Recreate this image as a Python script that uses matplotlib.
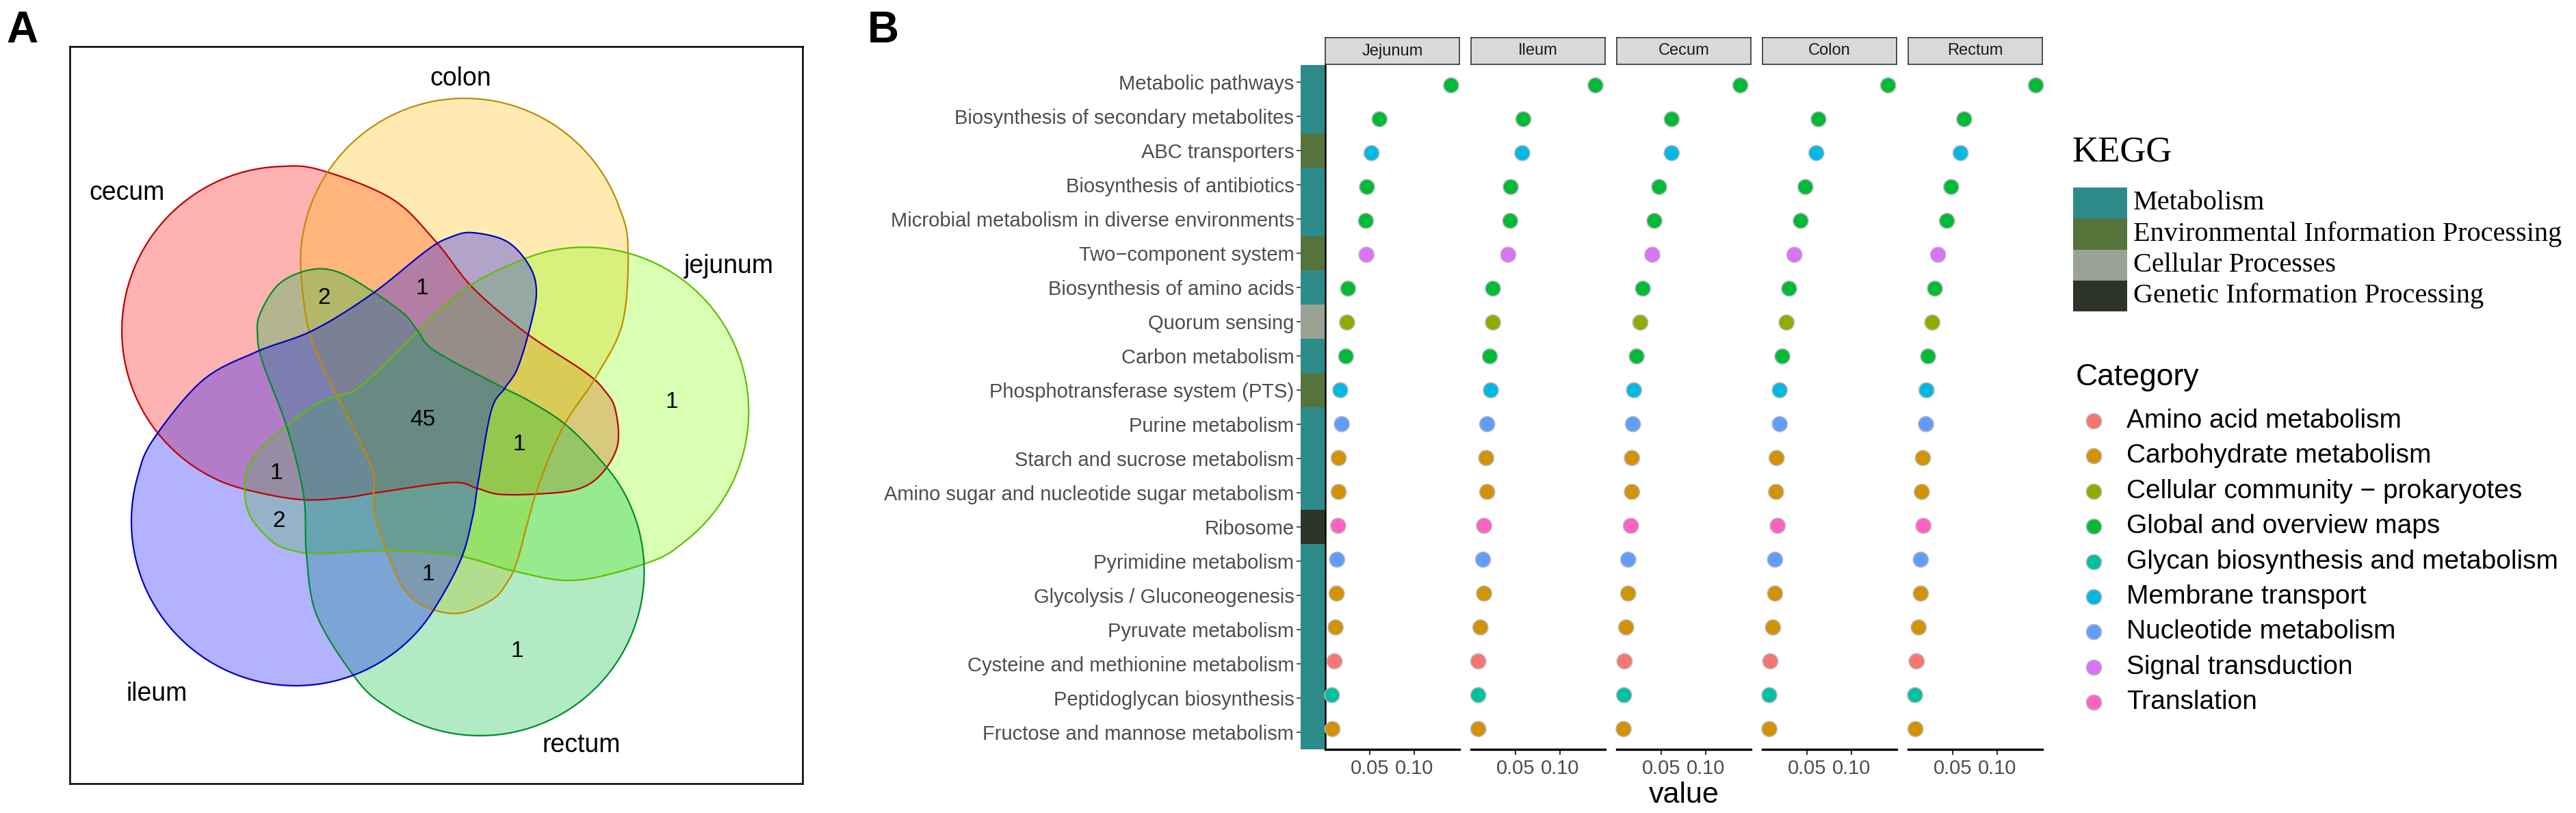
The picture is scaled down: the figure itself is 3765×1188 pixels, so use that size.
import numpy as np
import matplotlib
matplotlib.use('Agg')
import matplotlib.pyplot as plt
from matplotlib.patches import Polygon, Rectangle

plt.rcParams['font.family'] = ['Liberation Sans', 'DejaVu Sans']

W, H = 3765, 1188

# ---------------- data: panel A (Venn) ----------------
venn_sets = ['cecum', 'colon', 'jejunum', 'rectum', 'ileum']
venn_counts = [45, 2, 1, 1, 1, 1, 2, 1, 1]

# ---------------- data: panel B (dot plot) ----------------
pathways = ['Metabolic pathways', 'Biosynthesis of secondary metabolites',
            'ABC transporters', 'Biosynthesis of antibiotics',
            'Microbial metabolism in diverse environments', 'Two\u2212component system',
            'Biosynthesis of amino acids', 'Quorum sensing', 'Carbon metabolism',
            'Phosphotransferase system (PTS)', 'Purine metabolism',
            'Starch and sucrose metabolism', 'Amino sugar and nucleotide sugar metabolism',
            'Ribosome', 'Pyrimidine metabolism', 'Glycolysis / Gluconeogenesis',
            'Pyruvate metabolism', 'Cysteine and methionine metabolism',
            'Peptidoglycan biosynthesis', 'Fructose and mannose metabolism']
kegg_class = ['Metabolism', 'Metabolism', 'Environmental Information Processing',
              'Metabolism', 'Metabolism', 'Environmental Information Processing',
              'Metabolism', 'Cellular Processes', 'Metabolism',
              'Environmental Information Processing', 'Metabolism', 'Metabolism',
              'Metabolism', 'Genetic Information Processing', 'Metabolism',
              'Metabolism', 'Metabolism', 'Metabolism', 'Metabolism', 'Metabolism']
category = ['Global and overview maps', 'Global and overview maps', 'Membrane transport',
            'Global and overview maps', 'Global and overview maps', 'Signal transduction',
            'Global and overview maps', 'Cellular community \u2212 prokaryotes',
            'Global and overview maps', 'Membrane transport', 'Nucleotide metabolism',
            'Carbohydrate metabolism', 'Carbohydrate metabolism', 'Translation',
            'Nucleotide metabolism', 'Carbohydrate metabolism', 'Carbohydrate metabolism',
            'Amino acid metabolism', 'Glycan biosynthesis and metabolism',
            'Carbohydrate metabolism']
segments = ['Jejunum', 'Ileum', 'Cecum', 'Colon', 'Rectum']
jejunum = [0.1415, 0.0610, 0.0520, 0.0469, 0.0457, 0.0463, 0.0257, 0.0245, 0.0233, 0.0169,
           0.0186, 0.0151, 0.0151, 0.0145, 0.0133, 0.0128, 0.0116, 0.0104, 0.0075, 0.0080]
ileum = [0.1400, 0.0589, 0.0577, 0.0447, 0.0441, 0.0418, 0.0247, 0.0247, 0.0212, 0.0223,
         0.0182, 0.0171, 0.0182, 0.0147, 0.0135, 0.0147, 0.0106, 0.0082, 0.0082, 0.0082]
cecum = [0.1390, 0.0618, 0.0618, 0.0477, 0.0424, 0.0400, 0.0294, 0.0265, 0.0224, 0.0194,
         0.0182, 0.0171, 0.0171, 0.0159, 0.0129, 0.0129, 0.0106, 0.0088, 0.0082, 0.0077]
colon = [0.1413, 0.0630, 0.0606, 0.0483, 0.0430, 0.0359, 0.0300, 0.0271, 0.0224, 0.0194,
         0.0194, 0.0159, 0.0153, 0.0171, 0.0141, 0.0141, 0.0118, 0.0088, 0.0077, 0.0077]
rectum = [0.1436, 0.0630, 0.0589, 0.0483, 0.0436, 0.0336, 0.0300, 0.0271, 0.0224, 0.0206,
          0.0200, 0.0165, 0.0153, 0.0171, 0.0141, 0.0141, 0.0118, 0.0094, 0.0077, 0.0082]
seg_values = [jejunum, ileum, cecum, colon, rectum]

kegg_levels = ['Metabolism', 'Environmental Information Processing',
               'Cellular Processes', 'Genetic Information Processing']
cat_levels = ['Amino acid metabolism', 'Carbohydrate metabolism',
              'Cellular community \u2212 prokaryotes', 'Global and overview maps',
              'Glycan biosynthesis and metabolism', 'Membrane transport',
              'Nucleotide metabolism', 'Signal transduction', 'Translation']

# ---------------- styles ----------------
kegg_colors = ['#2D8B89', '#56733C', '#9AA393', '#2E3428']
cat_colors = ['#F8766D', '#D39200', '#93AA00', '#00BA38', '#00C19F',
              '#00B9E3', '#619CFF', '#DB72FB', '#FF61C3']
venn_fill = {'cecum': '#FF0000', 'colon': '#FFBF00', 'jejunum': '#80FF00',
             'rectum': '#00BF3B', 'ileum': '#0000FF'}
venn_edge = {'cecum': '#BF0000', 'colon': '#BF8C00', 'jejunum': '#5FBF00',
             'rectum': '#008C2C', 'ileum': '#0000BF'}
venn_rot = {'ileum': 0, 'cecum': 72, 'colon': 144, 'jejunum': 216, 'rectum': 288}
venn_center = (617, 613)
count_pos = [(618, 613), (474, 436), (617, 421), (982, 587), (759, 650),
             (404, 692), (408, 762), (626, 840), (756, 952)]
name_pos = {'cecum': (186, 282), 'colon': (673, 115), 'jejunum': (1065, 389),
            'ileum': (229, 1014), 'rectum': (850, 1089)}


def box(x0, y0, x1, y1):
    return [x0 / W, 1 - y1 / H, (x1 - x0) / W, (y1 - y0) / H]


def smooth_closed(pts, n=24):
    p = np.asarray(pts, float)
    p0, p1, p2, p3 = np.roll(p, 1, 0), p, np.roll(p, -1, 0), np.roll(p, -2, 0)
    t = np.linspace(0, 1, n, endpoint=False)[:, None, None]
    c = 0.5 * (2 * p1 + (p2 - p0) * t + (2 * p0 - 5 * p1 + 4 * p2 - p3) * t ** 2
               + (-p0 + 3 * p1 - 3 * p2 + p3) * t ** 3)
    return c.transpose(1, 0, 2).reshape(-1, 2)


# one Venn shape (the ileum one), relative to the diagram centre, screen axes
arm_right = [(74, -273), (124, -260), (157, -224), (167, -185), (157, -132), (139, -74),
             (121, -46), (101, -13), (82, 91), (74, 141), (58, 201)]
lobe_c, lobe_r = np.array([-185, 149]), 240
lobe = [tuple(lobe_c + lobe_r * np.array([np.cos(a), np.sin(a)]))
        for a in np.radians(np.arange(28, 224, 14))]
arm_left = [(-321, -57), (-242, -99), (-160, -130), (-74, -183), (8, -248), (43, -267)]
template = smooth_closed(arm_right + lobe + arm_left)


def shape_for(name):
    a = np.radians(venn_rot[name])
    x, y = template[:, 0], template[:, 1]
    xr = x * np.cos(a) - y * np.sin(a) + venn_center[0]
    yr = x * np.sin(a) + y * np.cos(a) + venn_center[1]
    return np.column_stack([xr, yr])


fig = plt.figure(figsize=(W / 100, H / 100), dpi=100)

# ---------------- panel A ----------------
axA = fig.add_axes(box(102, 68, 1173, 1145))
axA.set_xlim(102, 1173)
axA.set_ylim(1145, 68)
axA.set_xticks([])
axA.set_yticks([])
for s in axA.spines.values():
    s.set_linewidth(1.8)
for name in venn_sets:
    axA.add_patch(Polygon(shape_for(name), closed=True, facecolor=venn_fill[name],
                          alpha=0.3, edgecolor='none'))
for name in venn_sets:
    axA.add_patch(Polygon(shape_for(name), closed=True, facecolor='none',
                          edgecolor=venn_edge[name], linewidth=1.6))
for n, (x, y) in zip(venn_counts, count_pos):
    axA.text(x, y, str(n), fontsize=24, ha='center', va='center')
for name in venn_sets:
    x, y = name_pos[name]
    axA.text(x, y, name, fontsize=27, ha='center', va='center')

# ---------------- panel B ----------------
rows = np.arange(1, len(pathways) + 1)
axT = fig.add_axes(box(1901, 95, 1937, 1095))
axT.barh(rows, 1, height=1, left=0,
         color=[kegg_colors[kegg_levels.index(k)] for k in kegg_class])
axT.set_xlim(0, 1)
axT.set_ylim(len(pathways) + 0.5, 0.5)
axT.set_xticks([])
axT.set_yticks(rows)
axT.set_yticklabels(pathways, fontsize=21, color='#4D4D4D')
axT.tick_params(axis='y', length=4, width=1.2, color='#333333', pad=3)
for s in axT.spines.values():
    s.set_visible(False)

pt_colors = [cat_colors[cat_levels.index(c)] for c in category]
for k, (seg, vals) in enumerate(zip(segments, seg_values)):
    x0 = 1937 + 213 * k
    ax = fig.add_axes(box(x0, 95, x0 + 196, 1095))
    ax.scatter(vals, rows, s=250, c=pt_colors, edgecolors='#B5B5B5',
               linewidths=1.2, zorder=3, clip_on=False)
    ax.set_xlim(0, 0.1508)
    ax.set_ylim(len(pathways) + 0.6, 0.4)
    ax.set_yticks([])
    ax.set_xticks([0.05, 0.10])
    ax.set_xticklabels(['0.05', '0.10'], fontsize=21, color='#4D4D4D')
    ax.tick_params(axis='x', length=6, width=1.5, color='#333333', pad=4)
    for side in ['top', 'right']:
        ax.spines[side].set_visible(False)
    ax.spines['left'].set_visible(k == 0)
    ax.spines['left'].set_linewidth(1.8)
    ax.spines['bottom'].set_linewidth(2.4)
    ax.patch.set_alpha(0)
    sax = fig.add_axes(box(x0, 55, x0 + 196, 94))
    sax.set_xticks([])
    sax.set_yticks([])
    sax.set_facecolor('#D9D9D9')
    for s in sax.spines.values():
        s.set_color('#333333')
        s.set_linewidth(1.2)
    sax.text(0.5, 0.5, seg, fontsize=17, color='#1A1A1A', ha='center', va='center',
             transform=sax.transAxes)

# overlay for legends, labels
ov = fig.add_axes([0, 0, 1, 1], zorder=10)
ov.set_xlim(0, W)
ov.set_ylim(H, 0)
ov.axis('off')
ov.patch.set_alpha(0)

ov.text(2461, 1162, 'value', fontsize=31, ha='center', va='center')
ov.text(9, 62, 'A', fontsize=46, fontweight='bold', ha='left', va='baseline')
ov.text(1268, 62, 'B', fontsize=46, fontweight='bold', ha='left', va='baseline')

serif = ['Liberation Serif', 'DejaVu Serif']
ov.text(3029, 235, 'KEGG', fontsize=38, family=serif, ha='left', va='baseline')
band = 45.25
for i, (lev, col) in enumerate(zip(kegg_levels, kegg_colors)):
    y0 = 274 + band * i
    ov.add_patch(Rectangle((3030, y0), 79, band, facecolor=col, edgecolor='none'))
    ov.text(3118, y0 + band / 2, lev, fontsize=29, family=serif, ha='left', va='center')

ov.text(3034, 563, 'Category', fontsize=32, ha='left', va='baseline')
for i, (lev, col) in enumerate(zip(cat_levels, cat_colors)):
    y = 615 + 51.4 * i
    ov.scatter([3060], [y], s=250, c=col, edgecolors='#B5B5B5', linewidths=1.2)
    ov.text(3108, y, lev, fontsize=28, ha='left', va='center')

fig.savefig('out.png', dpi=100)
plt.close(fig)
